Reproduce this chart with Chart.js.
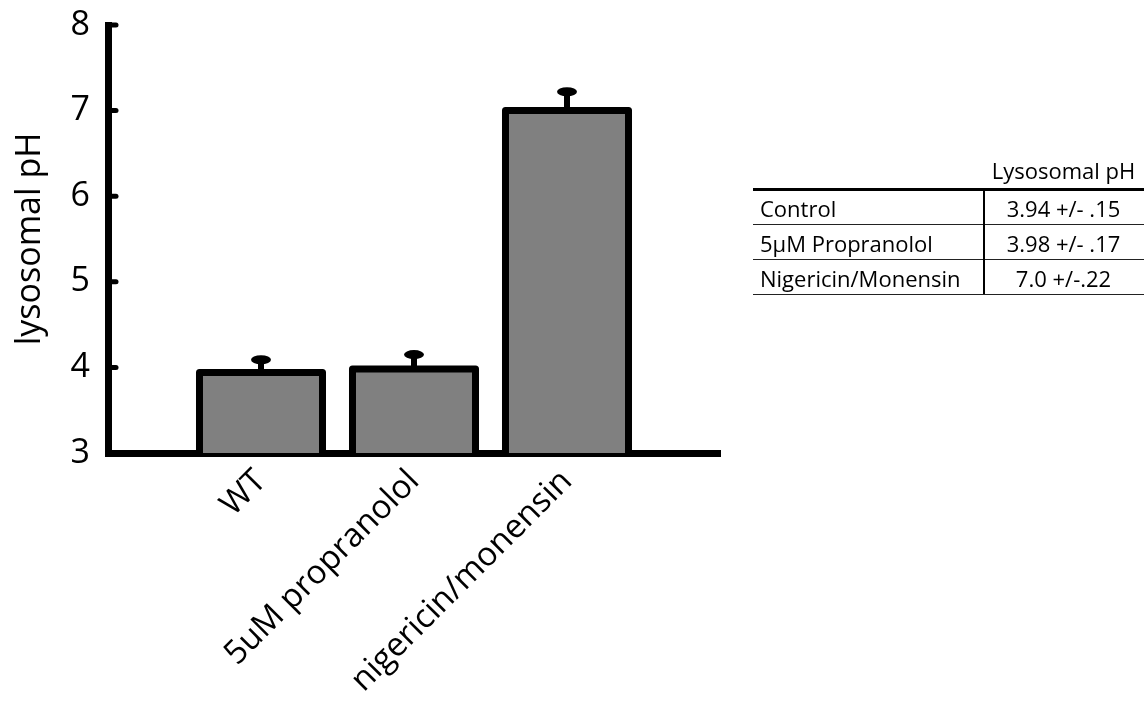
<!DOCTYPE html>
<html>
<head>
<meta charset="utf-8">
<title>Lysosomal pH</title>
<script src="https://cdn.jsdelivr.net/npm/chart.js@4.4.1/dist/chart.umd.min.js"></script>
<style>
  html, body { margin: 0; padding: 0; background: #fff; }
  #wrap { position: relative; width: 1144px; height: 713px; overflow: hidden; }
  #chart { position: absolute; left: 0; top: 0; }
  .cell { position: absolute; font-family: "Open Sans", sans-serif; font-size: 22px; color: #000;
          line-height: 35px; height: 35px; white-space: nowrap; }
  .line { position: absolute; background: #000; }
</style>
</head>
<body>
<div id="wrap">
  <canvas id="chart" width="1144" height="713"></canvas>
  <div id="summary"></div>
</div>
<script>
// Treatment groups and measured lysosomal pH (mean and upper error)
const categories = ['WT', '5uM propranolol', 'nigericin/monensin'];
const phMeans = [3.94, 3.98, 7.0];
const phErrors = [0.15, 0.17, 0.22];
const yTicks = [3, 4, 5, 6, 7, 8];

// Summary table contents
const tableHeader = 'Lysosomal pH';
const tableRows = ['Control', '5\u00B5M Propranolol', 'Nigericin/Monensin'];
const tableValues = ['3.94 +/- .15', '3.98 +/- .17', '7.0 +/-.22'];

// Empty slots at both ends leave a half-gap before the first bar and after the last
const labels = ['', ...categories, ''];
const values = [null, ...phMeans, null];
const errors = [null, ...phErrors, null];

const AXIS_W = 7;
const FONT = '"Open Sans", sans-serif';

// Outlines, upper error bars and inward tick stubs
const barDecorations = {
  id: 'barDecorations',
  afterDatasetsDraw(chart) {
    const ctx = chart.ctx;
    const yScale = chart.scales.y;
    const area = chart.chartArea;
    const meta = chart.getDatasetMeta(0);
    const basePx = yScale.getPixelForValue(yScale.min);
    ctx.save();
    ctx.strokeStyle = '#000';
    ctx.fillStyle = '#000';
    ctx.lineJoin = 'round';
    ctx.lineCap = 'round';

    // tick stubs pointing into the plot
    ctx.lineWidth = 5;
    yTicks.forEach(v => {
      const py = yScale.getPixelForValue(v);
      ctx.beginPath();
      ctx.moveTo(area.left, py);
      ctx.lineTo(area.left + 8, py);
      ctx.stroke();
    });

    meta.data.forEach((bar, i) => {
      if (values[i] === null) return;
      const p = bar.getProps(['x', 'y', 'width'], true);
      const left = p.x - p.width / 2;
      const right = p.x + p.width / 2;
      const top = p.y;
      const yErr = yScale.getPixelForValue(values[i] + errors[i]);

      // error stem and cap
      ctx.lineWidth = 6;
      ctx.lineCap = 'butt';
      ctx.beginPath();
      ctx.moveTo(p.x, top);
      ctx.lineTo(p.x, yErr);
      ctx.stroke();
      ctx.beginPath();
      ctx.ellipse(p.x, yErr, 10, 4.5, 0, 0, Math.PI * 2);
      ctx.fill();

      // bar outline centred on the bar edges
      ctx.lineWidth = AXIS_W;
      ctx.lineCap = 'round';
      ctx.beginPath();
      ctx.moveTo(left, basePx);
      ctx.lineTo(left, top);
      ctx.lineTo(right, top);
      ctx.lineTo(right, basePx);
      ctx.stroke();
    });
    ctx.restore();
  }
};

new Chart(document.getElementById('chart'), {
  type: 'bar',
  data: {
    labels: labels,
    datasets: [{
      data: values,
      backgroundColor: '#808080',
      borderWidth: 0,
      categoryPercentage: 1.0,
      barPercentage: 0.804
    }]
  },
  options: {
    responsive: false,
    animation: false,
    events: [],
    layout: { padding: { top: 25, right: 424, left: 0, bottom: 0 } },
    plugins: { legend: { display: false }, tooltip: { enabled: false } },
    scales: {
      x: {
        offset: false,
        grid: { display: false, drawTicks: false, tickLength: 0 },
        border: { display: true, width: AXIS_W, color: '#000' },
        ticks: {
          autoSkip: false,
          maxRotation: 45,
          minRotation: 45,
          padding: 9,
          color: '#000',
          font: { family: FONT, size: 33 }
        },
        afterFit(scale) { scale.height = 713 - 453; }
      },
      y: {
        min: 3,
        max: 8,
        grid: { display: false, drawTicks: false, tickLength: 0 },
        border: { display: true, width: AXIS_W, color: '#000' },
        ticks: {
          stepSize: 1,
          padding: 18,
          color: '#000',
          font: { family: FONT, size: 34 }
        },
        title: {
          display: true,
          text: 'lysosomal pH',
          color: '#000',
          padding: { top: 10, bottom: 0 },
          font: { family: FONT, size: 34 }
        },
        afterFit(scale) {
          scale.width = 108;
          // top of the axis sits at the layout padding, not below the label
          scale.paddingTop = 0;
          scale.paddingBottom = 0;
        }
      }
    }
  },
  plugins: [barDecorations]
});

// Summary table drawn as positioned text
(function buildTable() {
  const host = document.getElementById('summary');
  const left = 753, divider = 983, right = 1144;
  const ruleTop = 189, rowH = 35;
  const add = (cls, style, text) => {
    const d = document.createElement('div');
    d.className = cls;
    Object.assign(d.style, style);
    if (text !== undefined) d.textContent = text;
    host.appendChild(d);
    return d;
  };
  add('cell', { left: divider + 'px', width: (right - divider) + 'px', top: (ruleTop - 36) + 'px', textAlign: 'center' }, tableHeader);
  add('line', { left: left + 'px', width: (right - left) + 'px', top: (ruleTop - 1.5) + 'px', height: '3px' });
  tableRows.forEach((name, i) => {
    const top = ruleTop + i * rowH;
    add('cell', { left: (left + 7) + 'px', top: (top + 2) + 'px' }, name);
    add('cell', { left: divider + 'px', width: (right - divider) + 'px', top: (top + 2) + 'px', textAlign: 'center' }, tableValues[i]);
    add('line', { left: left + 'px', width: (right - left) + 'px', top: (top + rowH) + 'px', height: '1px', background: '#222' });
  });
  add('line', { left: divider + 'px', width: '1.5px', top: ruleTop + 'px', height: (rowH * tableRows.length) + 'px' });
})();
</script>
</body>
</html>
